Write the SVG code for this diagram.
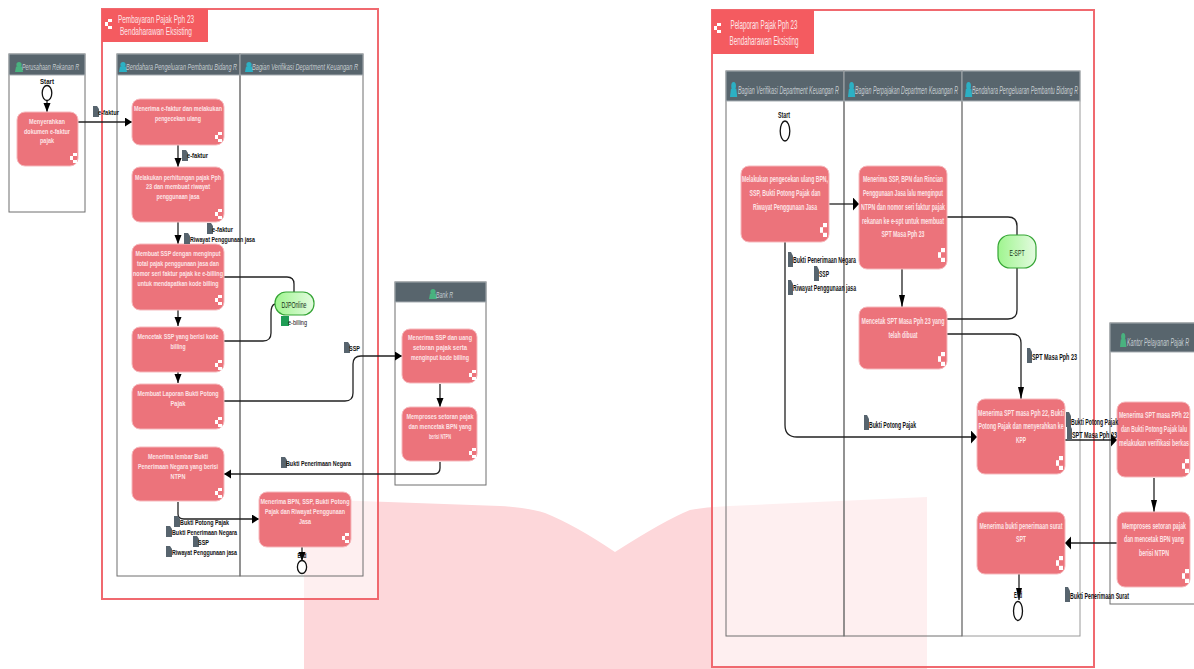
<svg xmlns="http://www.w3.org/2000/svg" width="1194" height="669" viewBox="0 0 1194 669">
<style>
text{font-family:"Liberation Sans Narrow","Liberation Sans",Arial,sans-serif}
.p{fill:#ec737b;stroke:#f6b9bd;stroke-width:1}
.pt{fill:#fde4e6;font-size:8px;font-weight:700;text-anchor:middle}
.pt2{fill:#fde4e6;font-size:9.5px;font-weight:700;text-anchor:middle}
.lb{fill:#111;font-size:8px;font-weight:700}
.lb2{fill:#111;font-size:9.5px;font-weight:700}
.sq{fill:#fff}
.h{fill:#58656d;stroke:#a6adb2;stroke-width:1}
.ht{fill:#c5ccd0;font-size:8.5px;font-style:italic}
.ht2{fill:#c5ccd0;font-size:10px;font-style:italic}
.lane{fill:none;stroke:#6f6f6f;stroke-width:1}
.c{fill:none;stroke:#222;stroke-width:1.3}
.doc{fill:#57646e}
.ttl{fill:#fde4e6;font-size:11px;text-anchor:middle}
.ttl2{fill:#fde4e6;font-size:13.5px;text-anchor:middle}
.pool{fill:#fff;fill-opacity:.6;stroke:#f0696f;stroke-width:2}
.tab{fill:#f45b60}
.ev{fill:#fff;stroke:#111;stroke-width:1.3}
.term{fill:url(#g);stroke:#35a535;stroke-width:1.2}
.tt{fill:#173017;font-size:9px;text-anchor:middle}
</style>
<defs>
<linearGradient id="g" x1="0" x2="1"><stop offset="0" stop-color="#9ff58f"/><stop offset="1" stop-color="#e4fbe0"/></linearGradient>
<marker id="a1h" markerUnits="userSpaceOnUse" markerWidth="8" markerHeight="10" refX="7" refY="4.5" orient="auto"><path d="M0 0L7 4.5L0 9Z" fill="#000"/></marker>
<marker id="a1v" markerUnits="userSpaceOnUse" markerWidth="10" markerHeight="8" refX="9" refY="3.5" orient="auto"><path d="M0 0L9 3.5L0 7Z" fill="#000"/></marker>
<marker id="a2h" markerUnits="userSpaceOnUse" markerWidth="7" markerHeight="14" refX="6" refY="6.5" orient="auto"><path d="M0 0L6 6.5L0 13Z" fill="#000"/></marker>
<marker id="a2v" markerUnits="userSpaceOnUse" markerWidth="13" markerHeight="7" refX="12" refY="3" orient="auto"><path d="M0 0L12 3L0 6Z" fill="#000"/></marker>
<g id="m"><rect x="3" y="0" width="4" height="3" class="sq"/><rect x="0" y="3" width="3" height="4" class="sq"/><rect x="3" y="7" width="4" height="3" class="sq"/></g>
<g id="u"><circle cx="4" cy="2.6" r="2.6"/><path d="M0 10L1 4.5H7L8 10Z"/></g>
<path id="d1" class="doc" d="M0 0H4L6 3V11H0Z"/>
<path id="d2" class="doc" d="M0 0H3L5 4V15H0Z"/>
</defs>
<path id="watermark" d="M304 499L500 506Q530 508 545 513Q575 525 615 552Q665 520 690 510Q705 507 730 506L927 497V669H304Z" fill="#fdd7da"/>

<g id="pool-pembayaran"><rect x="102" y="9" width="276" height="590" class="pool"/><rect x="102" y="9" width="106" height="33" class="tab"/><use href="#m" x="105" y="19"/><text class="ttl" x="156" y="23" textLength="76" lengthAdjust="spacingAndGlyphs">Pembayaran Pajak Pph 23</text><text class="ttl" x="156" y="35" textLength="72" lengthAdjust="spacingAndGlyphs">Bendaharawan Eksisting</text></g>
<g id="pool-pelaporan"><rect x="712" y="10" width="382" height="657" class="pool"/><rect x="712" y="10" width="102" height="44" class="tab"/><use href="#m" x="714" y="23"/><text class="ttl2" x="764" y="29" textLength="67" lengthAdjust="spacingAndGlyphs">Pelaporan Pajak Pph 23</text><text class="ttl2" x="764" y="45" textLength="69" lengthAdjust="spacingAndGlyphs">Bendaharawan Eksisting</text></g>

<g id="lane-rekanan"><rect x="9" y="54" width="76" height="158" class="lane"/><rect x="9" y="54" width="76" height="21" class="h"/><use href="#u" x="15" y="62" fill="#49b27f"/><text class="ht" x="22" y="70" textLength="57" lengthAdjust="spacingAndGlyphs">Perusahaan Rekanan R</text></g>
<g id="lane-bendahara1"><rect x="117" y="54" width="123" height="522" class="lane"/><rect x="117" y="54" width="123" height="21" class="h"/><use href="#u" x="119" y="62" fill="#2cb0c4"/><text class="ht" x="126" y="70" textLength="111" lengthAdjust="spacingAndGlyphs">Bendahara Pengeluaran Pembantu Bidang R</text></g>
<g id="lane-verif1"><rect x="240" y="54" width="123" height="522" class="lane"/><rect x="240" y="54" width="123" height="21" class="h"/><use href="#u" x="245" y="62" fill="#2cb0c4"/><text class="ht" x="252" y="70" textLength="106" lengthAdjust="spacingAndGlyphs">Bagian Verifikasi Department Keuangan R</text></g>
<g id="lane-bank"><rect x="395" y="282" width="91" height="203" class="lane"/><rect x="395" y="282" width="91" height="20" class="h"/><use href="#u" x="429" y="289" fill="#49b27f"/><text class="ht" x="436" y="298" textLength="17" lengthAdjust="spacingAndGlyphs">Bank R</text></g>
<g id="lane-verif2"><rect x="726" y="71" width="118" height="565" class="lane"/><rect x="726" y="71" width="118" height="30" class="h"/><use href="#u" transform="translate(730 82) scale(.9 1.5)" fill="#2cb0c4"/><text class="ht2" x="738" y="94" textLength="101" lengthAdjust="spacingAndGlyphs">Bagian Verifikasi Department Keuangan R</text></g>
<g id="lane-perpajakan"><rect x="844" y="71" width="118" height="565" class="lane"/><rect x="844" y="71" width="118" height="30" class="h"/><use href="#u" transform="translate(848 82) scale(.9 1.5)" fill="#2cb0c4"/><text class="ht2" x="855" y="94" textLength="103" lengthAdjust="spacingAndGlyphs">Bagian Perpajakan Departmen Keuangan R</text></g>
<g id="lane-bendahara2"><rect x="962" y="71" width="118" height="565" class="lane" stroke-opacity=".7"/><rect x="962" y="71" width="118" height="30" class="h"/><use href="#u" transform="translate(965 82) scale(.9 1.5)" fill="#2cb0c4"/><text class="ht2" x="972" y="94" textLength="106" lengthAdjust="spacingAndGlyphs">Bendahara Pengeluaran Pembantu Bidang R</text></g>
<g id="lane-kpp"><rect x="1110" y="323" width="90" height="281" class="lane"/><rect x="1110" y="323" width="90" height="29" class="h"/><use href="#u" transform="translate(1120 333) scale(.8 1.4)" fill="#49b27f"/><text class="ht2" x="1127" y="346" textLength="62" lengthAdjust="spacingAndGlyphs">Kantor Pelayanan Pajak R</text></g>

<g id="connectors">
<path class="c" d="M47 101V112" marker-end="url(#a1v)"/>
<path class="c" d="M78 122H132" marker-end="url(#a1h)"/>
<path class="c" d="M178 145V167" marker-end="url(#a1v)"/>
<path class="c" d="M178 222V244" marker-end="url(#a1v)"/>
<path class="c" d="M178 310V326" marker-end="url(#a1v)"/>
<path class="c" d="M178 372V383" marker-end="url(#a1v)"/>
<path class="c" d="M224 277H287Q294 277 294 284V292"/>
<path class="c" d="M224 341H263Q271 341 271 333V313Q271 305 275 304"/>
<path class="c" d="M224 401H345Q353 401 353 393V364Q353 356 361 356H402" marker-end="url(#a1h)"/>
<path class="c" d="M440 384V407" marker-end="url(#a1v)"/>
<path class="c" d="M440 462V468Q440 474 434 474H224" marker-end="url(#a1h)"/>
<path class="c" d="M178 502V514Q178 519 184 519H259" marker-end="url(#a1h)"/>
<path class="c" d="M302 547V561" marker-end="url(#a1v)"/>
<path class="c" d="M829 204H859" marker-end="url(#a2h)"/>
<path class="c" d="M902 269V307" marker-end="url(#a2v)"/>
<path class="c" d="M947 217H1008Q1017 217 1017 226V235"/>
<path class="c" d="M947 319H1008Q1017 319 1017 310V268"/>
<path class="c" d="M947 334H1012Q1021 334 1021 343V399" marker-end="url(#a2v)"/>
<path class="c" d="M785 242V425Q785 437 797 437H977" marker-end="url(#a2h)"/>
<path class="c" d="M1065 440H1117" marker-end="url(#a2h)"/>
<path class="c" d="M1154 478V512" marker-end="url(#a2v)"/>
<path class="c" d="M1117 543H1065" marker-end="url(#a2h)"/>
<path class="c" d="M1019 574V600" marker-end="url(#a2v)"/>
</g>

<g id="start1"><text class="lb" x="47" y="84" text-anchor="middle" textLength="14" lengthAdjust="spacingAndGlyphs">Start</text><ellipse class="ev" cx="47" cy="93" rx="4.8" ry="7.5"/></g>
<g id="n1"><rect class="p" x="17" y="112" width="61" height="54" rx="8"/><use href="#m" x="70" y="153"/><text class="pt" x="47" y="124" textLength="36" lengthAdjust="spacingAndGlyphs">Menyerahkan</text><text class="pt" x="47" y="134" textLength="46" lengthAdjust="spacingAndGlyphs">dokumen e-faktur</text><text class="pt" x="47" y="143" textLength="14" lengthAdjust="spacingAndGlyphs">pajak</text></g>
<g id="n2"><rect class="p" x="132" y="99" width="92" height="46" rx="8"/><use href="#m" x="215" y="132"/><text class="pt" x="178" y="111" textLength="88" lengthAdjust="spacingAndGlyphs">Menerima e-faktur dan melakukan</text><text class="pt" x="178" y="121" textLength="46" lengthAdjust="spacingAndGlyphs">pengecekan ulang</text></g>
<g id="n3"><rect class="p" x="132" y="167" width="92" height="55" rx="8"/><use href="#m" x="215" y="209"/><text class="pt" x="178" y="180" textLength="86" lengthAdjust="spacingAndGlyphs">Melakukan perhitungan pajak Pph</text><text class="pt" x="178" y="189" textLength="64" lengthAdjust="spacingAndGlyphs">23 dan membuat riwayat</text><text class="pt" x="178" y="199" textLength="43" lengthAdjust="spacingAndGlyphs">penggunaan jasa</text></g>
<g id="n4"><rect class="p" x="132" y="244" width="92" height="66" rx="8"/><use href="#m" x="215" y="295"/><text class="pt" x="178" y="256" textLength="85" lengthAdjust="spacingAndGlyphs">Membuat SSP dengan menginput</text><text class="pt" x="178" y="266" textLength="82" lengthAdjust="spacingAndGlyphs">total pajak penggunaan jasa dan</text><text class="pt" x="178" y="276" textLength="90" lengthAdjust="spacingAndGlyphs">nomor seri faktur pajak ke e-billing</text><text class="pt" x="178" y="286" textLength="81" lengthAdjust="spacingAndGlyphs">untuk mendapatkan kode billing</text></g>
<g id="n5"><rect class="p" x="132" y="327" width="92" height="45" rx="8"/><use href="#m" x="215" y="360"/><text class="pt" x="178" y="339" textLength="81" lengthAdjust="spacingAndGlyphs">Mencetak SSP yang berisi kode</text><text class="pt" x="178" y="349" textLength="15" lengthAdjust="spacingAndGlyphs">billing</text></g>
<g id="n6"><rect class="p" x="132" y="384" width="92" height="45" rx="8"/><use href="#m" x="215" y="417"/><text class="pt" x="178" y="396" textLength="81" lengthAdjust="spacingAndGlyphs">Membuat Laporan Bukti Potong</text><text class="pt" x="178" y="406" textLength="15" lengthAdjust="spacingAndGlyphs">Pajak</text></g>
<g id="n7"><rect class="p" x="132" y="447" width="92" height="54" rx="8"/><use href="#m" x="215" y="488"/><text class="pt" x="178" y="459" textLength="60" lengthAdjust="spacingAndGlyphs">Menerima lembar Bukti</text><text class="pt" x="178" y="469" textLength="80" lengthAdjust="spacingAndGlyphs">Penerimaan Negara yang berisi</text><text class="pt" x="178" y="479" textLength="15" lengthAdjust="spacingAndGlyphs">NTPN</text></g>
<g id="n8"><rect class="p" x="259" y="492" width="92" height="55" rx="8"/><use href="#m" x="342" y="533"/><text class="pt" x="305" y="504" textLength="89" lengthAdjust="spacingAndGlyphs">Menerima BPN, SSP, Bukti Potong</text><text class="pt" x="305" y="514" textLength="80" lengthAdjust="spacingAndGlyphs">Pajak dan Riwayat Penggunaan</text><text class="pt" x="305" y="524" textLength="12" lengthAdjust="spacingAndGlyphs">Jasa</text></g>
<g id="end1"><ellipse class="ev" cx="302" cy="567" rx="4.6" ry="6.5" stroke-width="1.6"/><text class="lb" x="302" y="558" text-anchor="middle" textLength="9" lengthAdjust="spacingAndGlyphs">End</text></g>
<g id="djp"><rect class="term" x="275" y="292" width="39" height="23" rx="11"/><text class="tt" x="294" y="308" textLength="25" lengthAdjust="spacingAndGlyphs">DJPOnline</text></g>
<g id="b1"><rect class="p" x="402" y="329" width="75" height="54" rx="8"/><use href="#m" x="469" y="370"/><text class="pt" x="440" y="340" textLength="64" lengthAdjust="spacingAndGlyphs">Menerima SSP dan uang</text><text class="pt" x="440" y="350" textLength="54" lengthAdjust="spacingAndGlyphs">setoran pajak serta</text><text class="pt" x="440" y="360" textLength="58" lengthAdjust="spacingAndGlyphs">menginput kode billing</text></g>
<g id="b2"><rect class="p" x="402" y="407" width="75" height="54" rx="8"/><use href="#m" x="469" y="448"/><text class="pt" x="440" y="419" textLength="67" lengthAdjust="spacingAndGlyphs">Memproses setoran pajak</text><text class="pt" x="440" y="429" textLength="63" lengthAdjust="spacingAndGlyphs">dan mencetak BPN yang</text><text class="pt" x="440" y="439" textLength="22" lengthAdjust="spacingAndGlyphs">berisi NTPN</text></g>

<g id="start2"><text class="lb2" x="784" y="118" text-anchor="middle" textLength="12" lengthAdjust="spacingAndGlyphs">Start</text><ellipse class="ev" cx="785" cy="131" rx="4.8" ry="10" stroke-width="1"/></g>
<g id="r1"><rect class="p" x="741" y="166" width="88" height="76" rx="8"/><use href="#m" transform="translate(820 223) scale(1 1.4)"/><text class="pt2" x="785" y="182" textLength="86" lengthAdjust="spacingAndGlyphs">Melakukan pengecekan ulang BPN,</text><text class="pt2" x="785" y="196" textLength="71" lengthAdjust="spacingAndGlyphs">SSP, Bukti Potong Pajak dan</text><text class="pt2" x="785" y="210" textLength="64" lengthAdjust="spacingAndGlyphs">Riwayat Penggunaan Jasa</text></g>
<g id="r2"><rect class="p" x="859" y="166" width="88" height="103" rx="8"/><use href="#m" transform="translate(938 248) scale(1 1.4)"/><text class="pt2" x="903" y="182" textLength="80" lengthAdjust="spacingAndGlyphs">Menerima SSP, BPN dan Rincian</text><text class="pt2" x="903" y="196" textLength="80" lengthAdjust="spacingAndGlyphs">Penggunaan Jasa lalu menginput</text><text class="pt2" x="903" y="210" textLength="84" lengthAdjust="spacingAndGlyphs">NTPN dan nomor seri faktur pajak</text><text class="pt2" x="903" y="224" textLength="82" lengthAdjust="spacingAndGlyphs">rekanan ke e-spt untuk membuat</text><text class="pt2" x="903" y="237" textLength="43" lengthAdjust="spacingAndGlyphs">SPT Masa Pph 23</text></g>
<g id="r3"><rect class="p" x="859" y="307" width="88" height="62" rx="8"/><use href="#m" transform="translate(938 352) scale(1 1.4)"/><text class="pt2" x="903" y="324" textLength="83" lengthAdjust="spacingAndGlyphs">Mencetak SPT Masa Pph 23 yang</text><text class="pt2" x="903" y="338" textLength="29" lengthAdjust="spacingAndGlyphs">telah dibuat</text></g>
<g id="espt"><rect class="term" x="998" y="235" width="38" height="33" rx="12"/><text class="tt" x="1017" y="256" textLength="15" lengthAdjust="spacingAndGlyphs">E-SPT</text></g>
<g id="r4"><rect class="p" x="977" y="399" width="88" height="75" rx="8"/><use href="#m" transform="translate(1056 456) scale(1 1.4)"/><text class="pt2" x="1021" y="416" textLength="86" lengthAdjust="spacingAndGlyphs">Menerima SPT masa Pph 22, Bukti</text><text class="pt2" x="1021" y="429" textLength="85" lengthAdjust="spacingAndGlyphs">Potong Pajak dan menyerahkan ke</text><text class="pt2" x="1021" y="443" textLength="10" lengthAdjust="spacingAndGlyphs">KPP</text></g>
<g id="r5"><rect class="p" x="977" y="512" width="88" height="62" rx="8"/><use href="#m" transform="translate(1056 556) scale(1 1.4)"/><text class="pt2" x="1021" y="529" textLength="83" lengthAdjust="spacingAndGlyphs">Menerima bukti penerimaan surat</text><text class="pt2" x="1021" y="542" textLength="10" lengthAdjust="spacingAndGlyphs">SPT</text></g>
<g id="end2"><ellipse class="ev" cx="1018" cy="611" rx="4.5" ry="9.5" stroke-width="1.6"/><text class="lb2" x="1018" y="598" text-anchor="middle" textLength="8" lengthAdjust="spacingAndGlyphs">End</text></g>
<g id="k1"><rect class="p" x="1117" y="402" width="73" height="75" rx="8"/><use href="#m" transform="translate(1182 459) scale(1 1.4)"/><text class="pt2" x="1154" y="418" textLength="70" lengthAdjust="spacingAndGlyphs">Menerima SPT masa PPh 22</text><text class="pt2" x="1154" y="432" textLength="66" lengthAdjust="spacingAndGlyphs">dan Bukti Potong Pajak lalu</text><text class="pt2" x="1154" y="446" textLength="70" lengthAdjust="spacingAndGlyphs">melakukan verifikasi berkas</text></g>
<g id="k2"><rect class="p" x="1117" y="512" width="73" height="75" rx="8"/><use href="#m" transform="translate(1182 569) scale(1 1.4)"/><text class="pt2" x="1154" y="529" textLength="64" lengthAdjust="spacingAndGlyphs">Memproses setoran pajak</text><text class="pt2" x="1154" y="542" textLength="60" lengthAdjust="spacingAndGlyphs">dan mencetak BPN yang</text><text class="pt2" x="1154" y="556" textLength="30" lengthAdjust="spacingAndGlyphs">berisi NTPN</text></g>

<g id="data-labels">
<use href="#d1" x="93" y="106"/><text class="lb" x="98" y="115" textLength="21" lengthAdjust="spacingAndGlyphs">e-faktur</text>
<use href="#d1" x="182" y="150"/><text class="lb" x="187" y="158" textLength="21" lengthAdjust="spacingAndGlyphs">e-faktur</text>
<use href="#d1" x="207" y="223"/><text class="lb" x="212" y="232" textLength="21" lengthAdjust="spacingAndGlyphs">e-faktur</text>
<use href="#d1" x="184" y="233"/><text class="lb" x="190" y="242" textLength="65" lengthAdjust="spacingAndGlyphs">Riwayat Penggunaan jasa</text>
<rect x="281" y="316" width="8" height="10" style="fill:#1f9d55"/><text class="lb" x="288" y="325" textLength="19" lengthAdjust="spacingAndGlyphs" style="font-weight:400">e-billing</text>
<use href="#d1" x="344" y="342"/><text class="lb" x="349" y="351" textLength="11" lengthAdjust="spacingAndGlyphs">SSP</text>
<use href="#d1" x="281" y="457"/><text class="lb" x="286" y="466" textLength="65" lengthAdjust="spacingAndGlyphs">Bukti Penerimaan Negara</text>
<use href="#d1" x="174" y="516"/><text class="lb" x="180" y="525" textLength="49" lengthAdjust="spacingAndGlyphs">Bukti Potong Pajak</text>
<use href="#d1" x="166" y="526"/><text class="lb" x="172" y="535" textLength="65" lengthAdjust="spacingAndGlyphs">Bukti Penerimaan Negara</text>
<use href="#d1" x="193" y="536"/><text class="lb" x="198" y="545" textLength="11" lengthAdjust="spacingAndGlyphs">SSP</text>
<use href="#d1" x="166" y="546"/><text class="lb" x="172" y="555" textLength="65" lengthAdjust="spacingAndGlyphs">Riwayat Penggunaan jasa</text>
<use href="#d2" x="788" y="252"/><text class="lb2" x="793" y="263" textLength="63" lengthAdjust="spacingAndGlyphs">Bukti Penerimaan Negara</text>
<use href="#d2" x="814" y="266"/><text class="lb2" x="819" y="277" textLength="10" lengthAdjust="spacingAndGlyphs">SSP</text>
<use href="#d2" x="788" y="280"/><text class="lb2" x="793" y="291" textLength="63" lengthAdjust="spacingAndGlyphs">Riwayat Penggunaan jasa</text>
<use href="#d2" x="1027" y="348"/><text class="lb2" x="1032" y="360" textLength="45" lengthAdjust="spacingAndGlyphs">SPT Masa Pph 23</text>
<use href="#d2" x="864" y="415"/><text class="lb2" x="869" y="428" textLength="47" lengthAdjust="spacingAndGlyphs">Bukti Potong Pajak</text>
<use href="#d2" x="1066" y="412"/><text class="lb2" x="1071" y="425" textLength="47" lengthAdjust="spacingAndGlyphs">Bukti Potong Pajak</text>
<use href="#d2" x="1067" y="425"/><text class="lb2" x="1072" y="438" textLength="45" lengthAdjust="spacingAndGlyphs">SPT Masa Pph 23</text>
<use href="#d2" x="1065" y="587"/><text class="lb2" x="1070" y="599" textLength="59" lengthAdjust="spacingAndGlyphs">Bukti Penerimaan Surat</text>
</g>
</svg>
